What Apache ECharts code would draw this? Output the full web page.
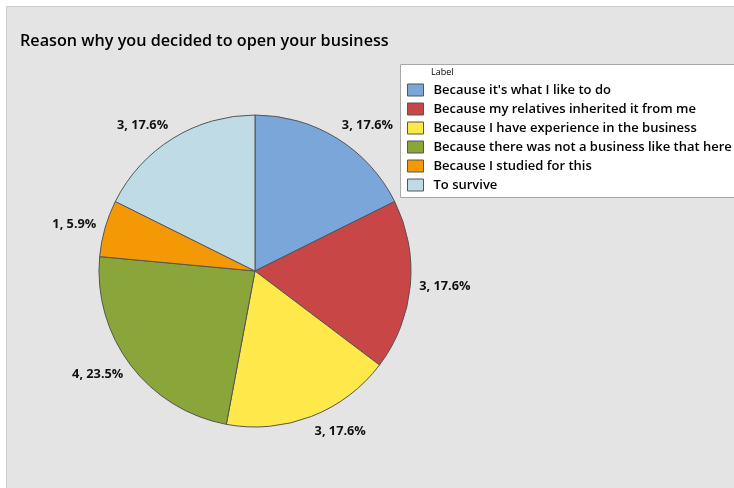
<!DOCTYPE html>
<html>
<head>
<meta charset="utf-8">
<script src="https://cdn.jsdelivr.net/npm/echarts@6/dist/echarts.min.js"></script>
<style>
html,body{margin:0;padding:0;background:#ffffff;}
#chart{width:734px;height:488px;}
</style>
</head>
<body>
<div id="chart"></div>
<script>
const title = "Reason why you decided to open your business";
const categories = [
  "Because it's what I like to do",
  "Because my relatives inherited it from me",
  "Because I have experience in the business",
  "Because there was not a business like that here",
  "Because I studied for this",
  "To survive"
];
const counts = [3, 3, 3, 4, 1, 3];
const colors = ["#7ba6d9", "#c84646", "#ffe94a", "#8aa53a", "#f59805", "#bedbe6"];

const PIE_CX = 255, PIE_CY = 271, PIE_R = 156, LABEL_GAP = 9;
const total = counts.reduce((a, b) => a + b, 0);
const cum = [];
counts.reduce((acc, v, i) => { cum[i] = acc + v / 2; return acc + v; }, 0);

const chart = echarts.init(document.getElementById('chart'), null, {renderer: 'canvas'});
const font = "'Open Sans', 'DejaVu Sans', sans-serif";
chart.setOption({
  backgroundColor: '#ffffff',
  animation: false,
  color: colors,
  textStyle: {fontFamily: font},
  graphic: [
    {type: 'rect', z: -10, shape: {x: 6.5, y: 6.5, width: 760, height: 520},
     style: {fill: '#e4e4e4', stroke: '#cdcdcd', lineWidth: 1}},
    {type: 'rect', z: 1, shape: {x: 400.5, y: 64.5, width: 360, height: 133},
     style: {fill: '#ffffff', stroke: '#a8a8a8', lineWidth: 1}},
    {type: 'text', z: 2, left: 431, top: 68,
     style: {text: 'Label', fontSize: 9, fontFamily: font, fill: '#000'}}
  ],
  title: {
    text: title,
    left: 15, top: 28,
    textStyle: {fontSize: 16.2, fontWeight: 600, color: '#000', fontFamily: font}
  },
  legend: {
    orient: 'vertical',
    left: 407, top: 83,
    padding: 0,
    itemWidth: 16, itemHeight: 12, itemGap: 5,
    icon: 'rect',
    selectedMode: false,
    z: 3,
    itemStyle: {borderColor: '#555555', borderWidth: 1},
    textStyle: {fontSize: 13, fontWeight: 600, color: '#000', fontFamily: font, lineHeight: 14, padding: [0,0,0,5]},
    data: categories
  },
  series: [{
    type: 'pie',
    center: [PIE_CX, PIE_CY],
    radius: PIE_R,
    startAngle: 90,
    clockwise: true,
    avoidLabelOverlap: false,
    itemStyle: {borderColor: '#555555', borderWidth: 1},
    label: {
      show: true, position: 'outside',
      formatter: p => p.value + ', ' + (p.value / total * 100).toFixed(1) + '%',
      fontSize: 12.75, fontWeight: 'bold', color: '#111', fontFamily: font
    },
    labelLine: {show: false, length: LABEL_GAP, length2: 0},
    labelLayout: function (params) {
      const th = cum[params.dataIndex] / total * 2 * Math.PI;
      const s = Math.sin(th), c = Math.cos(th);
      const d = PIE_R + LABEL_GAP;
      const h = params.labelRect.height;
      return {
        x: PIE_CX + d * s,
        y: PIE_CY - d * c - c * h / 2,
        align: s >= 0 ? 'left' : 'right',
        verticalAlign: 'middle'
      };
    },
    emphasis: {disabled: true},
    data: categories.map((n, i) => ({name: n, value: counts[i]}))
  }]
});
</script>
</body>
</html>
